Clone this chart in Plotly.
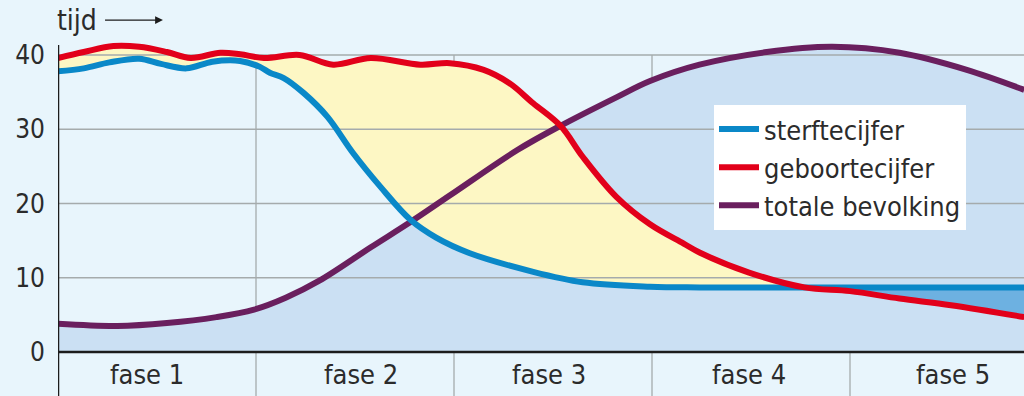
import plotly.graph_objects as go

# ---- data (x in phase units: 0 = start of fase 1, 1 = start of fase 2, ...) ----
fasen = ["fase 1", "fase 2", "fase 3", "fase 4", "fase 5"]
y_ticks = [0, 10, 20, 30, 40]

x_geboorte = [0.00, 0.13, 0.28, 0.41, 0.55, 0.67, 0.82, 0.92, 1.04, 1.22, 1.39, 1.58,
              1.83, 1.98, 2.15, 2.28, 2.40, 2.54, 2.65, 2.82, 2.99, 3.16, 3.24, 3.49,
              3.77, 4.00, 4.25, 4.51, 4.88]
geboortecijfer = [39.6, 40.4, 41.2, 41.1, 40.4, 39.6, 40.3, 40.1, 39.6, 40.0, 38.7, 39.6,
                  38.7, 38.9, 38.0, 36.2, 33.5, 30.4, 26.3, 20.9, 17.2, 14.6, 13.4, 10.7,
                  8.7, 8.2, 7.2, 6.3, 4.7]

x_sterfte = [0.00, 0.13, 0.26, 0.41, 0.52, 0.65, 0.78, 0.92, 1.02, 1.07, 1.14, 1.24,
             1.36, 1.49, 1.63, 1.78, 1.91, 2.08, 2.40, 2.65, 2.99, 3.24, 3.77, 4.25, 4.88]
sterftecijfer = [37.8, 38.2, 39.0, 39.5, 38.8, 38.2, 39.1, 39.2, 38.4, 37.6, 36.9, 34.9,
                 31.7, 26.8, 22.2, 17.8, 15.4, 13.3, 10.8, 9.4, 8.8, 8.7, 8.7, 8.7, 8.7]

x_bevolking = [0.00, 0.30, 0.55, 0.80, 0.99, 1.15, 1.32, 1.58, 1.78, 1.98, 2.32, 2.54,
               2.82, 2.99, 3.24, 3.58, 3.91, 4.25, 4.59, 4.88]
totale_bevolking = [3.8, 3.5, 3.9, 4.7, 5.7, 7.3, 9.6, 14.1, 17.5, 21.1, 27.2, 30.5,
                    34.3, 36.5, 38.7, 40.4, 41.1, 40.3, 38.0, 35.3]

kruispunt = 3.77  # where birth rate falls below death rate

# ---- styling ----
BG = "#e8f5fc"
POP_FILL = "#cbe0f3"
YELLOW = "#fdf7c4"
MID_BLUE = "#6db1e1"
GRID = "#a5abac"
DARK = "#1c1c1c"
TXT = "#2b2b2b"
C_BLUE = "#0a88c8"
C_RED = "#e2001a"
C_PURPLE = "#6a1f5e"
FONT = "DejaVu Sans Condensed, DejaVu Sans, sans-serif"

X_MAX = (1024 - 58) / 198
Y_MIN = -44 / 7.425
Y_MAX = 40 + 55 / 7.425
label_x = [0.45, 1.53, 2.48, 3.49, 4.52]


def split(xs, ys, at):
    head = [(x, y) for x, y in zip(xs, ys) if x <= at]
    tail = [(x, y) for x, y in zip(xs, ys) if x >= at]
    return ([p[0] for p in head], [p[1] for p in head]), ([p[0] for p in tail], [p[1] for p in tail])


(bh_x, bh_y), (bt_x, bt_y) = split(x_sterfte, sterftecijfer, kruispunt)
(rh_x, rh_y), (rt_x, rt_y) = split(x_geboorte, geboortecijfer, kruispunt)

fig = go.Figure()
common = dict(mode="lines", hoverinfo="skip", showlegend=False, line_shape="spline")

# population area
fig.add_trace(go.Scatter(x=x_bevolking, y=totale_bevolking, fill="tozeroy", fillcolor=POP_FILL,
                         line=dict(width=0, color=POP_FILL), **common))
# birth surplus (yellow)
fig.add_trace(go.Scatter(x=bh_x, y=bh_y, line=dict(width=0, color=YELLOW), **common))
fig.add_trace(go.Scatter(x=rh_x, y=rh_y, fill="tonexty", fillcolor=YELLOW,
                         line=dict(width=0, color=YELLOW), **common))
# death surplus (mid blue)
fig.add_trace(go.Scatter(x=bt_x, y=bt_y, line=dict(width=0, color=MID_BLUE), **common))
fig.add_trace(go.Scatter(x=rt_x, y=rt_y, fill="tonexty", fillcolor=MID_BLUE,
                         line=dict(width=0, color=MID_BLUE), **common))

# horizontal grid lines drawn above fills, below curves
for v in y_ticks[1:]:
    fig.add_trace(go.Scatter(x=[0, X_MAX], y=[v, v], mode="lines", hoverinfo="skip",
                             showlegend=False, line=dict(color=GRID, width=1.3)))

# curves
fig.add_trace(go.Scatter(x=x_bevolking, y=totale_bevolking, mode="lines", name="totale bevolking",
                         line=dict(color=C_PURPLE, width=6, shape="spline"), legendrank=3))
fig.add_trace(go.Scatter(x=x_sterfte, y=sterftecijfer, mode="lines", name="sterftecijfer",
                         line=dict(color=C_BLUE, width=6, shape="spline"), legendrank=1))
fig.add_trace(go.Scatter(x=x_geboorte, y=geboortecijfer, mode="lines", name="geboortecijfer",
                         line=dict(color=C_RED, width=6, shape="spline"), legendrank=2))

shapes = []
# phase dividers (under the fills)
for i in range(1, len(fasen)):
    shapes.append(dict(type="line", xref="x", yref="y", x0=i, x1=i, y0=Y_MIN, y1=40,
                       line=dict(color=GRID, width=1.3), layer="below"))
# axes
shapes.append(dict(type="line", xref="x", yref="y", x0=0, x1=X_MAX, y0=0, y1=0,
                   line=dict(color=DARK, width=2.5), layer="above"))
shapes.append(dict(type="line", xref="x", yref="y", x0=0, x1=0, y0=Y_MIN, y1=41.35,
                   line=dict(color=DARK, width=2.5), layer="above"))

annotations = []
for lx, f in zip(label_x, fasen):
    annotations.append(dict(x=lx, y=-3.0, xref="x", yref="y", text=f, showarrow=False,
                            font=dict(size=27, color=TXT, family=FONT)))
annotations.append(dict(x=-3 / 966, y=44.6, xref="paper", yref="y", text="tijd", showarrow=False,
                        xanchor="left", yanchor="middle", font=dict(size=28, color=TXT, family=FONT)))
annotations.append(dict(x=0.53, y=44.7, ax=0.23, ay=44.7, xref="x", yref="y", axref="x", ayref="y",
                        text="", showarrow=True, arrowhead=2, arrowsize=1.2, arrowwidth=1.3,
                        arrowcolor=DARK))

fig.update_layout(
    width=1024, height=396,
    margin=dict(l=58, r=0, t=0, b=0),
    paper_bgcolor=BG, plot_bgcolor=BG,
    font=dict(family=FONT, color=TXT, size=25),
    xaxis=dict(range=[0, X_MAX], showgrid=False, zeroline=False, showticklabels=False,
               showline=False, fixedrange=True),
    yaxis=dict(range=[Y_MIN, Y_MAX], tickvals=y_ticks, showgrid=False, zeroline=False,
               showline=False, ticks="", ticklabelstandoff=12,
               tickfont=dict(size=26, color=TXT, family=FONT), fixedrange=True),
    legend=dict(x=(714 - 58) / 966, y=1 - 105 / 396, xanchor="left", yanchor="top",
                bgcolor="white", borderwidth=0, font=dict(size=27, color=TXT, family=FONT),
                itemwidth=40, tracegroupgap=0, traceorder="normal"),
    shapes=shapes,
    annotations=annotations,
)

fig.write_html("out.html", config={"displayModeBar": False},
               post_script="document.body.style.margin='0px';document.body.style.overflow='hidden';")
